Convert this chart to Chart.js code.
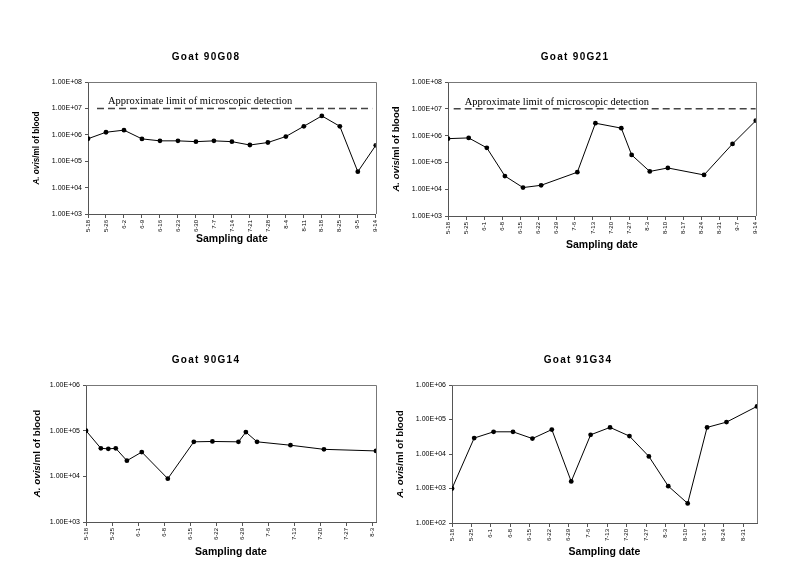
<!DOCTYPE html>
<html>
<head>
<meta charset="utf-8">
<script src="https://cdn.jsdelivr.net/npm/chart.js@4.4.1/dist/chart.umd.min.js"></script>
<style>
  body { margin: 0; background: #fff; }
  canvas { position: absolute; }
</style>
</head>
<body>
<canvas id="c1"></canvas>
<canvas id="c2"></canvas>
<canvas id="c3"></canvas>
<canvas id="c4"></canvas>
<script>
// A. ovis per ml of blood

// Goat 90G08: one point per labelled sampling date (equal spacing)
const g08Labels = ["5-18", "5-26", "6-2", "6-9", "6-16", "6-23", "6-30", "7-7", "7-14", "7-21", "7-28", "8-4", "8-11", "8-18", "8-25", "9-5", "9-14"];
const g08Values = [7.1e5, 1.25e6, 1.5e6, 7e5, 5.9e5, 5.9e5, 5.5e5, 5.9e5, 5.5e5, 4.1e5, 5.1e5, 8.6e5, 2.1e6, 5.2e6, 2.1e6, 4e4, 4e5];

// Goat 90G21: weekly ticks, samples on their own dates
const g21Ticks = ["5-18", "5-25", "6-1", "6-8", "6-15", "6-22", "6-29", "7-6", "7-13", "7-20", "7-27", "8-3", "8-10", "8-17", "8-24", "8-31", "9-7", "9-14"];
const g21Dates = ["5-18", "5-26", "6-2", "6-9", "6-16", "6-23", "7-7", "7-14", "7-24", "7-28", "8-4", "8-11", "8-25", "9-5", "9-14"];
const g21Values = [7.7e5, 8.2e5, 3.5e5, 3.1e4, 1.15e4, 1.4e4, 4.3e4, 2.9e6, 1.9e6, 1.9e5, 4.6e4, 6.2e4, 3.4e4, 4.9e5, 3.6e6];

// Goat 90G14
const g14Ticks = ["5-18", "5-25", "6-1", "6-8", "6-15", "6-22", "6-29", "7-6", "7-13", "7-20", "7-27", "8-3"];
const g14Dates = ["5-18", "5-22", "5-24", "5-26", "5-29", "6-2", "6-9", "6-16", "6-21", "6-28", "6-30", "7-3", "7-12", "7-21", "8-4"];
const g14Values = [1e5, 4.1e4, 4e4, 4.1e4, 2.2e4, 3.4e4, 8.9e3, 5.7e4, 5.8e4, 5.7e4, 9.3e4, 5.7e4, 4.8e4, 3.9e4, 3.6e4];

// Goat 91G34
const g34Ticks = ["5-18", "5-25", "6-1", "6-8", "6-15", "6-22", "6-29", "7-6", "7-13", "7-20", "7-27", "8-3", "8-10", "8-17", "8-24", "8-31"];
const g34Dates = ["5-18", "5-26", "6-2", "6-9", "6-16", "6-23", "6-30", "7-7", "7-14", "7-21", "7-28", "8-4", "8-11", "8-18", "8-25", "9-5"];
const g34Values = [1e3, 2.9e4, 4.4e4, 4.4e4, 2.8e4, 5.1e4, 1.6e3, 3.6e4, 5.9e4, 3.3e4, 8.5e3, 1.17e3, 3.7e2, 5.9e4, 8.4e4, 2.4e5];

const detectionLimit = 1e7;
const detectionText = "Approximate limit of microscopic detection";

const SANS = "'Liberation Sans', Arial, sans-serif";
const SERIF = "'Liberation Serif', 'Times New Roman', serif";
Chart.defaults.font.family = SANS;

function dayOf(md) {
  const [m, d] = md.split("-").map(Number);
  return (Date.UTC(2000, m - 1, d) - Date.UTC(2000, 4, 18)) / 86400000;
}

function sci(v) {
  const e = Math.round(Math.log10(v));
  return "1.00E" + (e >= 0 ? "+" : "-") + String(Math.abs(e)).padStart(2, "0");
}

function decades(min, max) {
  const out = [];
  for (let e = Math.round(Math.log10(min)); e <= Math.round(Math.log10(max)); e++) out.push(Math.pow(10, e));
  return out;
}

function makePanel(canvasId, p) {
  const canvas = document.getElementById(canvasId);
  canvas.width = p.box.width;
  canvas.height = p.box.height;
  canvas.style.left = p.box.left + "px";
  canvas.style.top = p.box.top + "px";

  const datasets = [
    {
      data: p.points,
      borderColor: "#000",
      borderWidth: 1,
      pointRadius: 2.4,
      pointBackgroundColor: "#000",
      pointBorderColor: "#000",
      pointBorderWidth: 0,
      tension: 0,
    },
  ];
  if (p.limit) {
    datasets.push({
      data: [
        { x: p.limit.from, y: detectionLimit },
        { x: p.limit.to, y: detectionLimit },
      ],
      borderColor: "#444",
      borderWidth: 1.5,
      borderDash: [7, 4],
      pointRadius: 0,
    });
  }

  const decor = {
    id: "decor",
    afterDraw(chart) {
      const ctx = chart.ctx;
      const a = chart.chartArea;
      const ox = p.box.left;
      const oy = p.box.top;
      ctx.save();

      // top and right frame lines
      ctx.strokeStyle = "#777";
      ctx.lineWidth = 1;
      ctx.beginPath();
      ctx.moveTo(a.left, Math.round(a.top) + 0.5);
      ctx.lineTo(Math.round(a.right) + 0.5, Math.round(a.top) + 0.5);
      ctx.lineTo(Math.round(a.right) + 0.5, a.bottom);
      ctx.stroke();

      ctx.fillStyle = "#000";

      // panel title
      ctx.font = "bold 10px " + SANS;
      ctx.textAlign = "center";
      ctx.textBaseline = "middle";
      ctx.letterSpacing = "1.3px";
      ctx.fillText(p.title, p.titleX - ox, p.titleY - oy);
      ctx.letterSpacing = "0px";

      // x axis title
      ctx.font = "bold 10.5px " + SANS;
      ctx.fillText("Sampling date", (a.left + a.right) / 2, p.xTitleY - oy);

      // y axis title, italic genus name
      const f1 = "italic bold " + p.yTitleSize + "px " + SANS;
      const f2 = "bold " + p.yTitleSize + "px " + SANS;
      ctx.font = f1;
      const w1 = ctx.measureText("A. ovis").width;
      ctx.font = f2;
      const w2 = ctx.measureText("/ml of blood").width;
      ctx.translate(p.yTitleX - ox, (a.top + a.bottom) / 2);
      ctx.rotate(-Math.PI / 2);
      ctx.textAlign = "left";
      ctx.font = f1;
      ctx.fillText("A. ovis", -(w1 + w2) / 2, 0);
      ctx.font = f2;
      ctx.fillText("/ml of blood", -(w1 + w2) / 2 + w1, 0);
      ctx.restore();

      // detection limit label
      if (p.limit) {
        ctx.save();
        ctx.font = "10.5px " + SERIF;
        ctx.fillStyle = "#000";
        ctx.textAlign = "left";
        ctx.textBaseline = "alphabetic";
        const xs = chart.scales.x.getPixelForValue(p.limit.from) + 11;
        const ys = chart.scales.y.getPixelForValue(detectionLimit) - 4;
        ctx.fillText(detectionText, xs, ys);
        ctx.restore();
      }
    },
  };

  return new Chart(canvas, {
    type: "line",
    data: { datasets },
    options: {
      responsive: false,
      animation: false,
      layout: {
        padding: {
          top: p.plot.top - p.box.top,
          right: p.box.left + p.box.width - p.plot.right,
          left: 0,
          bottom: 0,
        },
      },
      plugins: {
        legend: { display: false },
        tooltip: { enabled: false },
      },
      scales: {
        x: {
          type: "linear",
          min: p.xMin,
          max: p.xMax,
          afterBuildTicks: (s) => {
            s.ticks = p.xTicks.map((v) => ({ value: v }));
          },
          afterFit: (s) => {
            s.height = p.box.top + p.box.height - p.plot.bottom;
          },
          ticks: {
            autoSkip: false,
            minRotation: 90,
            maxRotation: 90,
            padding: 2,
            color: "#000",
            font: { size: 6 },
            callback: (v, i) => p.xLabels[i],
          },
          grid: { display: true, drawOnChartArea: false, tickLength: 4, color: "#555" },
          border: { display: true, color: "#555" },
        },
        y: {
          type: "logarithmic",
          min: p.yMin,
          max: p.yMax,
          afterBuildTicks: (s) => {
            s.ticks = decades(p.yMin, p.yMax).map((v) => ({ value: v }));
          },
          afterFit: (s) => {
            s.width = p.plot.left - p.box.left;
          },
          ticks: {
            padding: 3,
            color: "#000",
            font: { size: 7 },
            callback: (v) => sci(v),
          },
          grid: { display: true, drawOnChartArea: false, tickLength: 3, color: "#555" },
          border: { display: true, color: "#555" },
        },
      },
    },
    plugins: [decor],
  });
}

// panel 1: positions by category index
makePanel("c1", {
  box: { left: 28, top: 40, width: 357, height: 215 },
  plot: { left: 88, top: 82, right: 376, bottom: 214 },
  title: "Goat 90G08", titleX: 206, titleY: 57,
  xTitleY: 239, yTitleX: 37, yTitleSize: 8.2,
  points: g08Values.map((v, i) => ({ x: i, y: v })),
  xMin: 0, xMax: g08Labels.length - 1,
  xTicks: g08Labels.map((l, i) => i),
  xLabels: g08Labels,
  yMin: 1e3, yMax: 1e8,
  limit: { from: 0.5, to: 15.8 },
});

makePanel("c2", {
  box: { left: 388, top: 40, width: 377, height: 215 },
  plot: { left: 448, top: 82, right: 757, bottom: 216 },
  title: "Goat 90G21", titleX: 575, titleY: 57,
  xTitleY: 245, yTitleX: 396, yTitleSize: 9.5,
  points: g21Values.map((v, i) => ({ x: dayOf(g21Dates[i]), y: v })),
  xMin: 0, xMax: dayOf(g21Ticks[g21Ticks.length - 1]),
  xTicks: g21Ticks.map(dayOf),
  xLabels: g21Ticks,
  yMin: 1e3, yMax: 1e8,
  limit: { from: 2.2, to: dayOf("9-14") },
});

makePanel("c3", {
  box: { left: 28, top: 345, width: 357, height: 220 },
  plot: { left: 86, top: 385, right: 376, bottom: 522 },
  title: "Goat 90G14", titleX: 206, titleY: 360,
  xTitleY: 552, yTitleX: 37, yTitleSize: 9.8,
  points: g14Values.map((v, i) => ({ x: dayOf(g14Dates[i]), y: v })),
  xMin: 0, xMax: dayOf("8-4"),
  xTicks: g14Ticks.map(dayOf),
  xLabels: g14Ticks,
  yMin: 1e3, yMax: 1e6,
});

makePanel("c4", {
  box: { left: 388, top: 345, width: 377, height: 220 },
  plot: { left: 452, top: 385, right: 757, bottom: 523 },
  title: "Goat 91G34", titleX: 578, titleY: 360,
  xTitleY: 552, yTitleX: 400, yTitleSize: 9.8,
  points: g34Values.map((v, i) => ({ x: dayOf(g34Dates[i]), y: v })),
  xMin: 0, xMax: dayOf("9-5"),
  xTicks: g34Ticks.map(dayOf),
  xLabels: g34Ticks,
  yMin: 1e2, yMax: 1e6,
});
</script>
</body>
</html>
